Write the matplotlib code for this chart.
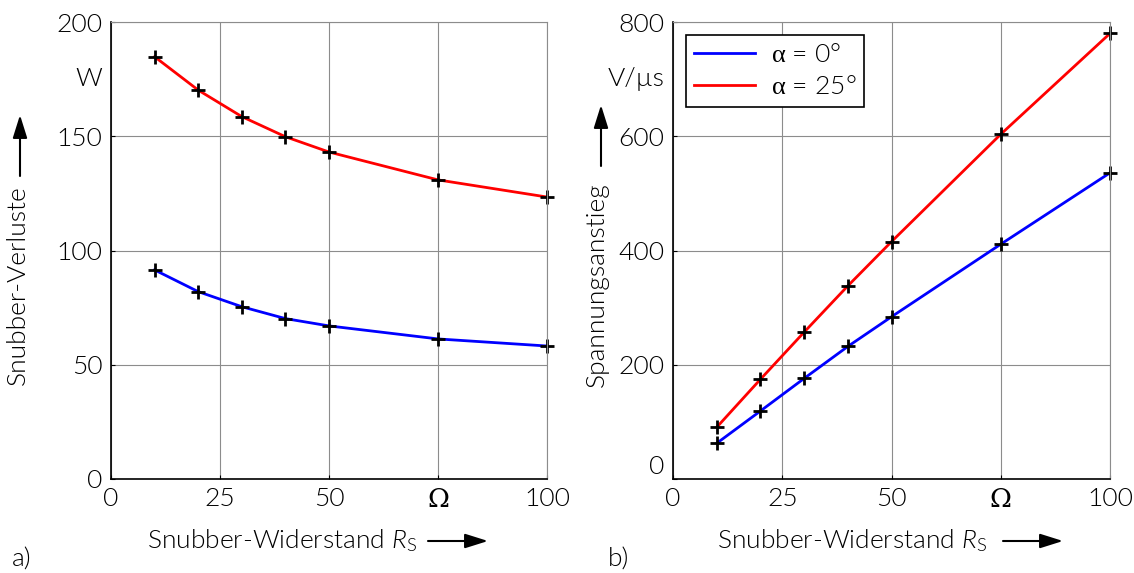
import matplotlib
matplotlib.use("Agg")
import matplotlib.pyplot as plt

plt.rcParams['font.family'] = ['Lato', 'DejaVu Sans']
plt.rcParams['font.weight'] = 300
plt.rcParams['mathtext.fontset'] = 'custom'
plt.rcParams['mathtext.it'] = 'Lato:style=italic:weight=300'
plt.rcParams['mathtext.rm'] = 'Lato:weight=300'
plt.rcParams['mathtext.sf'] = 'Liberation Serif:weight=400'

# data
R_s = [10, 20, 30, 40, 50, 75, 100]
loss_a0 = [91.5, 82.0, 75.4, 70.2, 67.0, 61.3, 58.2]
loss_a25 = [184.8, 170.2, 158.6, 149.8, 143.1, 130.9, 123.4]
dvdt_a0 = [62.5, 119, 176, 232, 284, 411, 536]
dvdt_a25 = [90.5, 174.5, 257, 338, 415.5, 603.5, 780]

x_ticks = [0, 25, 50, 75, 100]
x_ticklabels = ['0', '25', '50', 'Ω', '100']
yl_ticks = [0, 50, 100, 150, 200]
yr_ticks = [0, 200, 400, 600, 800]
legend_labels = ['$\\mathsf{\\alpha}$ = 0°', '$\\mathsf{\\alpha}$ = 25°']

W, H = 1134, 573
fig = plt.figure(figsize=(W / 100, H / 100), dpi=100)

def px_ax(x0, y0, x1, y1):
    return [x0 / W, 1 - y1 / H, (x1 - x0) / W, (y1 - y0) / H]

axL = fig.add_axes(px_ax(111, 22, 547, 479))
axR = fig.add_axes(px_ax(673, 22, 1110, 479))

FS = 19
BLUE = '#0000ff'
RED = '#ff0000'

def style(ax, yticks, ymax, unit, unit_y):
    ax.set_xlim(0, 100)
    ax.set_ylim(0, ymax)
    ax.set_xticks(x_ticks)
    ax.set_xticklabels(x_ticklabels, fontsize=FS)
    for lab in ax.get_xticklabels():
        if lab.get_text() == 'Ω':
            lab.set_fontfamily('DejaVu Serif')
    ax.set_yticks(yticks)
    ax.set_yticklabels([str(v) for v in yticks], fontsize=FS)
    ax.tick_params(direction='in', length=3, width=0.8, colors='black', pad=6)
    ax.grid(True, color='#8c8c8c', linewidth=0.8)
    ax.set_axisbelow(True)
    for s in ['top', 'right']:
        ax.spines[s].set_color('#8c8c8c')
        ax.spines[s].set_linewidth(0.8)
    for s in ['left', 'bottom']:
        ax.spines[s].set_color('black')
        ax.spines[s].set_linewidth(1.2)
    ax.text(-0.02, unit_y, unit, transform=ax.get_yaxis_transform(),
            ha='right', va='center', fontsize=FS)

style(axL, yl_ticks, 200, 'W', 175)
style(axR, yr_ticks, 800, 'V/µs', 700)
axR.get_yticklabels()[0].set_va('bottom')

for ax, y0, y25 in [(axL, loss_a0, loss_a25), (axR, dvdt_a0, dvdt_a25)]:
    ax.plot(R_s, y0, color=BLUE, lw=2, label=legend_labels[0])
    ax.plot(R_s, y25, color=RED, lw=2, label=legend_labels[1])
    ax.plot(R_s, y0, ls='none', marker='+', ms=9.5, mew=2, color='black', clip_on=False)
    ax.plot(R_s, y25, ls='none', marker='+', ms=9.5, mew=2, color='black', clip_on=False)

leg = axR.legend(loc='upper left', bbox_to_anchor=(0.0, 1.0), fontsize=FS,
                 frameon=True, fancybox=False, handlelength=2.3,
                 borderpad=0.3, labelspacing=0.3, handletextpad=0.6,
                 framealpha=1)
leg.get_frame().set_edgecolor('black')
leg.get_frame().set_linewidth(1.2)

def fpx(x, y):
    return (x / W, 1 - y / H)

ARROW = '-|>,head_length=0.7,head_width=0.22'

# x labels
for xl, xa0, xa1 in [(147, 428, 488), (717, 1003, 1063)]:
    fig.text(*fpx(xl, 541), 'Snubber-Widerstand $\\mathit{R}_\\mathrm{S}$',
             fontsize=FS, ha='left', va='center')
    fig.add_artist(matplotlib.patches.FancyArrowPatch(
        fpx(xa0, 541), fpx(xa1, 541), transform=fig.transFigure,
        arrowstyle=ARROW, color='black', lw=1.5, mutation_scale=20,
        shrinkA=0, shrinkB=0))

# y labels
for txt, xt, yc, xa, ya0, ya1 in [('Snubber-Verluste', 18, 285, 20, 176, 115),
                                  ('Spannungsanstieg', 597, 285, 601, 166, 105)]:
    fig.text(*fpx(xt, yc), txt, fontsize=FS, rotation=90, ha='center', va='center')
    fig.add_artist(matplotlib.patches.FancyArrowPatch(
        fpx(xa, ya0), fpx(xa, ya1), transform=fig.transFigure,
        arrowstyle=ARROW, color='black', lw=1.5, mutation_scale=20,
        shrinkA=0, shrinkB=0))

fig.text(*fpx(12, 560), 'a)', fontsize=FS, ha='left', va='center')
fig.text(*fpx(608, 560), 'b)', fontsize=FS, ha='left', va='center')

fig.savefig('out.png', dpi=100)
